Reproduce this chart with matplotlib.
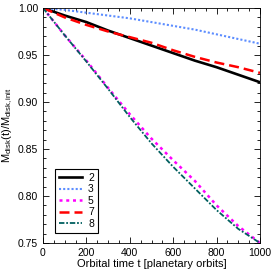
import matplotlib
matplotlib.use("Agg")
import matplotlib.pyplot as plt
from matplotlib.ticker import MultipleLocator

plt.rcParams['font.family'] = ['Liberation Sans', 'DejaVu Sans']
plt.rcParams['mathtext.fontset'] = 'custom'
plt.rcParams['mathtext.rm'] = 'Liberation Sans'
plt.rcParams['mathtext.it'] = 'Liberation Sans:italic'

t = [0, 100, 200, 300, 400, 500, 600, 700, 800, 900, 1000]
m2 = [1.000, 0.992, 0.985, 0.976, 0.968, 0.960, 0.952, 0.944, 0.937, 0.929, 0.921]
m3 = [1.000, 0.998, 0.995, 0.992, 0.989, 0.985, 0.981, 0.977, 0.972, 0.967, 0.962]
m5 = [1.000, 0.971, 0.944, 0.915, 0.887, 0.861, 0.838, 0.816, 0.790, 0.768, 0.750]
m7 = [1.000, 0.990, 0.982, 0.975, 0.969, 0.963, 0.955, 0.948, 0.942, 0.937, 0.931]
m8 = [1.000, 0.971, 0.943, 0.914, 0.884, 0.856, 0.831, 0.808, 0.785, 0.765, 0.750]
labels = ['2', '3', '5', '7', '8']

fig = plt.figure(figsize=(2.74, 2.74), dpi=100)
ax = fig.add_axes([43/274, 1-243/274, 217/274, 235/274])

ax.plot(t, m2, color='black', lw=1.9, ls='-', label=labels[0])
ax.plot(t, m3, color='#5c8dff', lw=1.5, ls=(0, (1, 1)), label=labels[1])
ax.plot(t, m5, color='#ff00ff', lw=1.8, ls=(0, (1.2, 1.5)), label=labels[2])
ax.plot(t, m7, color='#ff0000', lw=1.8, ls=(0, (4, 2)), label=labels[3])
ax.plot(t, m8, color='#005f5f', lw=1.3, ls=(0, (3, 1, 1, 1)), label=labels[4])

ax.set_xlim(0, 1000)
ax.set_ylim(0.75, 1.0)
ax.xaxis.set_major_locator(MultipleLocator(200))
ax.xaxis.set_minor_locator(MultipleLocator(50))
ax.yaxis.set_major_locator(MultipleLocator(0.05))
ax.yaxis.set_minor_locator(MultipleLocator(0.01))
ax.tick_params(which='both', direction='in', top=True, right=True, labelsize=7.5, width=0.6)
ax.tick_params(which='major', length=4)
ax.tick_params(which='minor', length=2)
ax.set_yticklabels([f'{v:.2f}' for v in ax.get_yticks()])
for s in ax.spines.values():
    s.set_linewidth(0.6)

ax.set_xlabel('Orbital time t [planetary orbits]', fontsize=8, labelpad=1)
ax.set_ylabel(r'M$_{\rm disk}$(t)/M$_{\rm disk,init}$', fontsize=8, labelpad=2)

leg = ax.legend(loc='lower left', bbox_to_anchor=(0.03, 0.02), fontsize=7.5,
                frameon=True, fancybox=False, edgecolor='black', framealpha=1,
                handlelength=2.2, handletextpad=0.6, labelspacing=0.15, borderpad=0.4)
leg.get_frame().set_linewidth(0.8)

fig.savefig('out.png', dpi=100)
